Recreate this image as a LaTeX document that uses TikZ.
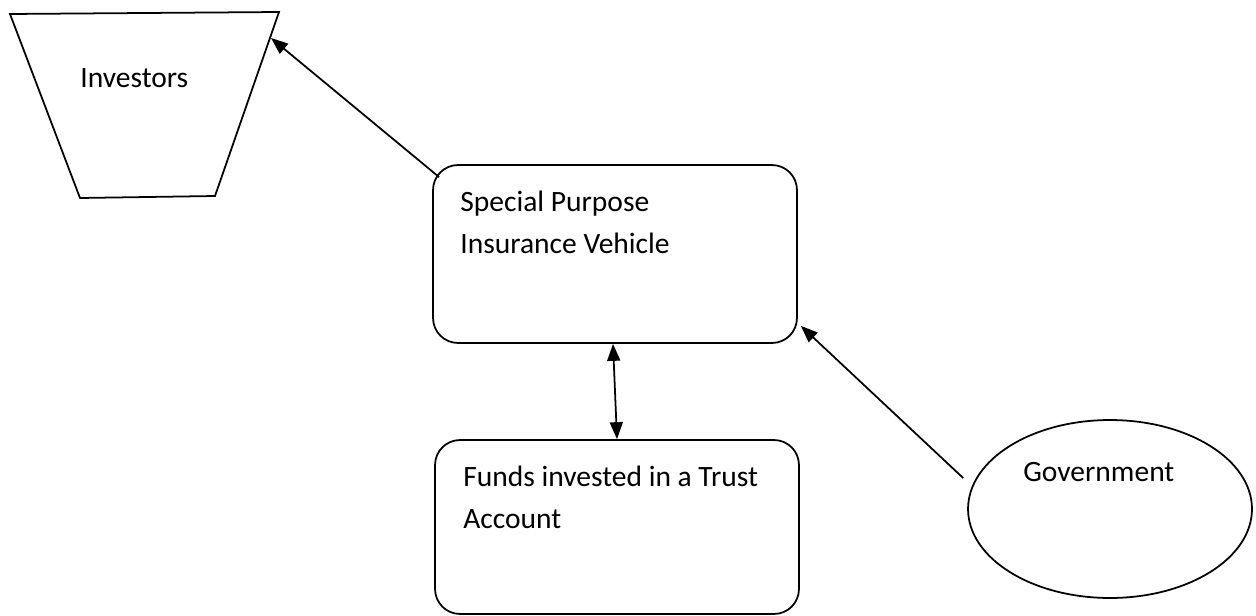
\documentclass[tikz,border=0pt]{standalone}
\usepackage{fontspec}
\setmainfont{Carlito}
\usetikzlibrary{shapes.geometric,arrows.meta}
\begin{document}
\begin{tikzpicture}[x=0.02cm,y=-0.02cm,
  lbl/.style={inner sep=0pt,font=\fontsize{16.8}{23.5}\selectfont,align=left},
  box/.style={draw,line width=1pt,rounded corners=0.5cm,inner sep=0pt},
  arr/.style={line width=1pt,-{Triangle[length=0.34cm,width=0.26cm]}},
  dblarr/.style={line width=1pt,{Triangle[length=0.34cm,width=0.26cm]}-{Triangle[length=0.34cm,width=0.26cm]}}]
\useasboundingbox (0,0) rectangle (1256,615);
% Investors trapezoid
\draw[line width=1pt] (10,14) -- (279,12) -- (215,196) -- (80,198) -- cycle;
\coordinate (invtip) at (271,38);
\node[lbl,anchor=base west] (invtxt) at (80,88) {Investors};
% SPIV
\node[box,minimum width=7.28cm,minimum height=3.56cm] (spiv) at (615,254) {};
\node[lbl,anchor=base west] (spivtxt) at (460,253) {Special Purpose\\Insurance Vehicle};
% Funds
\node[box,minimum width=7.28cm,minimum height=3.48cm] (funds) at (617,527) {};
\node[lbl,anchor=base west] (fundstxt) at (463,528) {Funds invested in a Trust\\Account};
% Government
\node[draw,ellipse,line width=1pt,minimum width=5.68cm,minimum height=3.56cm,inner sep=0pt] (gov) at (1110,509) {};
\node[lbl,anchor=base west] (govtxt) at (1023,481) {Government};
% connectors
\draw[arr] ([shift={(7,13)}]spiv.north west) -- (invtip);
\draw[dblarr] ([xshift=-0.04cm]spiv.south) -- (funds.north);
\draw[arr] ([shift={(-4,-31)}]gov.west) -- ([shift={(3,-18)}]spiv.south east);
\end{tikzpicture}
\end{document}
